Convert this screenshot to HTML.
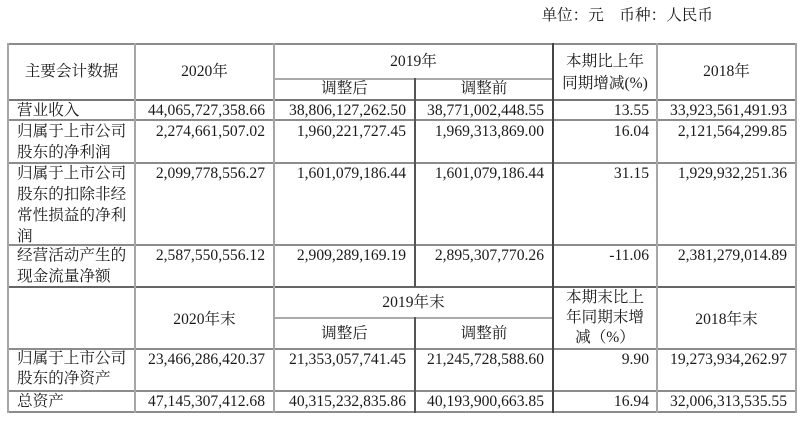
<!DOCTYPE html>
<html><head><meta charset="utf-8">
<style>
html,body{margin:0;padding:0;background:#fff;}
body{width:804px;height:422px;position:relative;overflow:hidden;
font-family:"Liberation Serif","Noto Serif CJK SC",serif;font-size:15.6px;color:#1a1a1a;}
.h{position:absolute;height:2px;background:#8c8c8c;}
.v{position:absolute;width:2px;background:#a6a6a6;}
.t{position:absolute;line-height:21px;white-space:nowrap;}
.c{text-align:center;}
.r{text-align:right;}
</style></head><body>

<div class="t r" style="left:400px;width:313px;top:5px;">单位：元　币种：人民币</div>

<!-- horizontal lines -->
<div class="h" style="left:7px;width:790px;top:43px;"></div>
<div class="h" style="left:274px;width:280px;top:78px;background:#aaa;"></div>
<div class="h" style="left:7px;width:790px;top:99px;background:#777;"></div>
<div class="h" style="left:7px;width:790px;top:119px;"></div>
<div class="h" style="left:7px;width:790px;top:162px;"></div>
<div class="h" style="left:7px;width:790px;top:244px;"></div>
<div class="h" style="left:7px;width:790px;top:286px;background:#666;"></div>
<div class="h" style="left:274px;width:280px;top:317px;background:#aaa;"></div>
<div class="h" style="left:7px;width:790px;top:348px;"></div>
<div class="h" style="left:7px;width:790px;top:390px;"></div>
<div class="h" style="left:7px;width:790px;top:411px;"></div>

<!-- vertical lines -->
<div class="v" style="left:7px;top:43px;height:370px;"></div>
<div class="v" style="left:134px;top:43px;height:370px;"></div>
<div class="v" style="left:273px;top:43px;height:370px;"></div>
<div class="v" style="left:414px;top:78px;height:209px;background:#555;"></div>
<div class="v" style="left:414px;top:317px;height:96px;background:#555;"></div>
<div class="v" style="left:552px;top:43px;height:370px;background:#444;"></div>
<div class="v" style="left:656px;top:43px;height:370px;"></div>
<div class="v" style="left:795px;top:43px;height:370px;"></div>

<!-- header 1 -->
<div class="t c" style="left:8px;width:127px;top:61px;">主要会计数据</div>
<div class="t c" style="left:135px;width:139px;top:61px;">2020年</div>
<div class="t c" style="left:274px;width:279px;top:51px;">2019年</div>
<div class="t c" style="left:274px;width:141px;top:78px;">调整后</div>
<div class="t c" style="left:415px;width:138px;top:78px;">调整前</div>
<div class="t c" style="left:553px;width:104px;top:51px;">本期比上年</div>
<div class="t c" style="left:553px;width:104px;top:73px;">同期增减(%)</div>
<div class="t c" style="left:657px;width:139px;top:61px;">2018年</div>

<!-- row 1 -->
<div class="t" style="left:17px;top:100px;">营业收入</div>
<div class="t r" style="left:135px;width:130px;top:100px;">44,065,727,358.66</div>
<div class="t r" style="left:274px;width:132px;top:100px;">38,806,127,262.50</div>
<div class="t r" style="left:415px;width:129px;top:100px;">38,771,002,448.55</div>
<div class="t r" style="left:553px;width:96px;top:100px;">13.55</div>
<div class="t r" style="left:657px;width:130px;top:100px;">33,923,561,491.93</div>

<!-- row 2 -->
<div class="t" style="left:17px;top:121px;">归属于上市公司<br>股东的净利润</div>
<div class="t r" style="left:135px;width:130px;top:121px;">2,274,661,507.02</div>
<div class="t r" style="left:274px;width:132px;top:121px;">1,960,221,727.45</div>
<div class="t r" style="left:415px;width:129px;top:121px;">1,969,313,869.00</div>
<div class="t r" style="left:553px;width:96px;top:121px;">16.04</div>
<div class="t r" style="left:657px;width:130px;top:121px;">2,121,564,299.85</div>

<!-- row 3 -->
<div class="t" style="left:17px;top:163px;">归属于上市公司<br>股东的扣除非经<br>常性损益的净利<br>润</div>
<div class="t r" style="left:135px;width:130px;top:163px;">2,099,778,556.27</div>
<div class="t r" style="left:274px;width:132px;top:163px;">1,601,079,186.44</div>
<div class="t r" style="left:415px;width:129px;top:163px;">1,601,079,186.44</div>
<div class="t r" style="left:553px;width:96px;top:163px;">31.15</div>
<div class="t r" style="left:657px;width:130px;top:163px;">1,929,932,251.36</div>

<!-- row 4 -->
<div class="t" style="left:17px;top:245px;">经营活动产生的<br>现金流量净额</div>
<div class="t r" style="left:135px;width:130px;top:245px;">2,587,550,556.12</div>
<div class="t r" style="left:274px;width:132px;top:245px;">2,909,289,169.19</div>
<div class="t r" style="left:415px;width:129px;top:245px;">2,895,307,770.26</div>
<div class="t r" style="left:553px;width:96px;top:245px;">-11.06</div>
<div class="t r" style="left:657px;width:130px;top:245px;">2,381,279,014.89</div>

<!-- header 2 -->
<div class="t c" style="left:135px;width:139px;top:309px;">2020年末</div>
<div class="t c" style="left:274px;width:279px;top:292px;">2019年末</div>
<div class="t c" style="left:274px;width:141px;top:323px;">调整后</div>
<div class="t c" style="left:415px;width:138px;top:323px;">调整前</div>
<div class="t c" style="left:553px;width:104px;top:288px;line-height:20px;">本期末比上<br>年同期末增<br>减（%）</div>
<div class="t c" style="left:657px;width:139px;top:309px;">2018年末</div>

<!-- row 5 -->
<div class="t" style="left:17px;top:349px;line-height:20px;">归属于上市公司<br>股东的净资产</div>
<div class="t r" style="left:135px;width:130px;top:349px;line-height:21px;">23,466,286,420.37</div>
<div class="t r" style="left:274px;width:132px;top:349px;">21,353,057,741.45</div>
<div class="t r" style="left:415px;width:129px;top:349px;">21,245,728,588.60</div>
<div class="t r" style="left:553px;width:96px;top:349px;">9.90</div>
<div class="t r" style="left:657px;width:130px;top:349px;">19,273,934,262.97</div>

<!-- row 6 -->
<div class="t" style="left:17px;top:391px;">总资产</div>
<div class="t r" style="left:135px;width:130px;top:391px;">47,145,307,412.68</div>
<div class="t r" style="left:274px;width:132px;top:391px;">40,315,232,835.86</div>
<div class="t r" style="left:415px;width:129px;top:391px;">40,193,900,663.85</div>
<div class="t r" style="left:553px;width:96px;top:391px;">16.94</div>
<div class="t r" style="left:657px;width:130px;top:391px;">32,006,313,535.55</div>

</body></html>
